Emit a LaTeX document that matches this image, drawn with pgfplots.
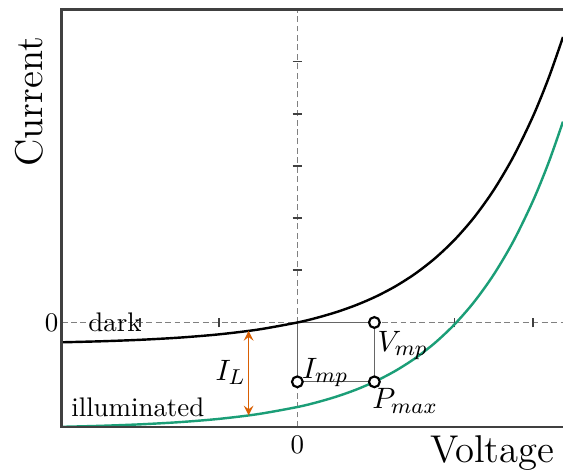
\documentclass[border=0pt]{standalone}
\usepackage{pgfplots}
\usepackage{pgfplotstable}
\pgfplotsset{compat=1.18}
\definecolor{illum}{RGB}{27,158,119}
\definecolor{ilarrow}{RGB}{217,95,2}

% diode characteristic in the dark
\pgfplotstableread{
V I
-3.00 -0.3797
-2.50 -0.3604
-2.00 -0.3320
-1.50 -0.2899
-1.00 -0.2277
-0.50 -0.1358
0.00 0.0000
0.25 0.0906
0.50 0.2007
0.75 0.3346
1.00 0.4974
1.25 0.6952
1.50 0.9358
1.75 1.2282
2.00 1.5837
2.25 2.0159
2.50 2.5413
2.75 3.1800
3.00 3.9564
3.20 4.6967
3.38 5.4697
}\darkIV

% same cell under illumination (shifted down by the photocurrent)
\pgfplotstableread{
V I
-3.00 -1.9997
-2.50 -1.9804
-2.00 -1.9520
-1.50 -1.9099
-1.00 -1.8477
-0.50 -1.7558
0.00 -1.6200
0.25 -1.5294
0.50 -1.4193
0.75 -1.2854
1.00 -1.1226
1.25 -0.9248
1.50 -0.6842
1.75 -0.3918
2.00 -0.0363
2.25 0.3959
2.50 0.9213
2.75 1.5600
3.00 2.3364
3.20 3.0767
3.38 3.8497
}\illumIV

\begin{document}
\begin{tikzpicture}
\begin{axis}[
  name=ax,
  scale only axis,
  width=186.4pt, height=155.2pt,
  xmin=-3, xmax=3.38, ymin=-2, ymax=6,
  axis lines=none,
  xtick=\empty, ytick=\empty,
  clip mode=individual,
]
% dashed axes through the origin
\draw[black!50, line width=0.4pt, dash pattern=on 2.2pt off 1.3pt] (axis cs:0,-2) -- (axis cs:0,6);
\draw[black!50, line width=0.4pt, dash pattern=on 2.2pt off 1.3pt] (axis cs:-3,0) -- (axis cs:3.38,0);
\pgfplotsinvokeforeach{1,2,3,4,5}{
  \draw[black!75, line width=0.6pt] ([xshift=-1.8pt]axis cs:0,#1) -- ([xshift=1.8pt]axis cs:0,#1);
}
\pgfplotsinvokeforeach{-2,-1,1,2,3}{
  \draw[black!75, line width=0.6pt] ([yshift=-1.8pt]axis cs:#1,0) -- ([yshift=1.8pt]axis cs:#1,0);
}

% maximum power rectangle
\addplot[black!60, line width=0.5pt] coordinates {(0,0) (0.98,0) (0.98,-1.137) (0,-1.137) (0,0)};

\addplot[black, line width=0.9pt, smooth] table[x=V, y=I] {\darkIV};
\addplot[illum, line width=0.9pt, smooth] table[x=V, y=I] {\illumIV};

% photocurrent
\draw[ilarrow, line width=0.6pt, <->, >=stealth] (axis cs:-0.62,-0.1612) -- (axis cs:-0.62,-1.7812);

\addplot[only marks, mark=*, mark size=2pt, mark options={fill=white, draw=black, line width=0.8pt}]
  coordinates {(0,-1.137) (0.98,0) (0.98,-1.137)};

% frame (open on the right)
\draw[black!75, line width=0.9pt] (rel axis cs:1,1) -- (rel axis cs:0,1) -- (rel axis cs:0,0) -- (rel axis cs:1,0);

\node[anchor=east, inner sep=1pt] at (axis cs:-3,0) {0};
\node[anchor=north, inner sep=0pt] at ([yshift=-3pt]axis cs:0,-2) {0};
\node at (axis cs:-2.32,0) {dark};
\node at (axis cs:-2.03,-1.62) {illuminated};
\node[anchor=east, inner sep=1pt, font=\fontsize{11}{13}\selectfont] at (axis cs:-0.62,-0.96) {$I_L$};
\node[anchor=west, inner sep=1pt, font=\fontsize{11}{13}\selectfont] at (axis cs:0.98,-0.44) {$V_{mp}$};
\node[anchor=west, inner sep=1pt, font=\fontsize{11}{13}\selectfont] at (axis cs:0.02,-0.96) {$I_{mp}$};
\node[font=\fontsize{11}{13}\selectfont] at (axis cs:1.37,-1.5) {$P_{max}$};

\node[rotate=90, anchor=base, font=\Large] at ([xshift=-7.2pt]axis cs:-3,4.23) {Current};
\node[anchor=base east, inner sep=0pt, font=\Large] at ([xshift=-3pt, yshift=-13.4pt]rel axis cs:1,0) {Voltage};
\end{axis}
\pgfresetboundingbox
\path ([xshift=-22.9pt,yshift=-16.7pt]ax.south west) rectangle ([yshift=3.5pt]ax.north east);
\end{tikzpicture}
\end{document}
